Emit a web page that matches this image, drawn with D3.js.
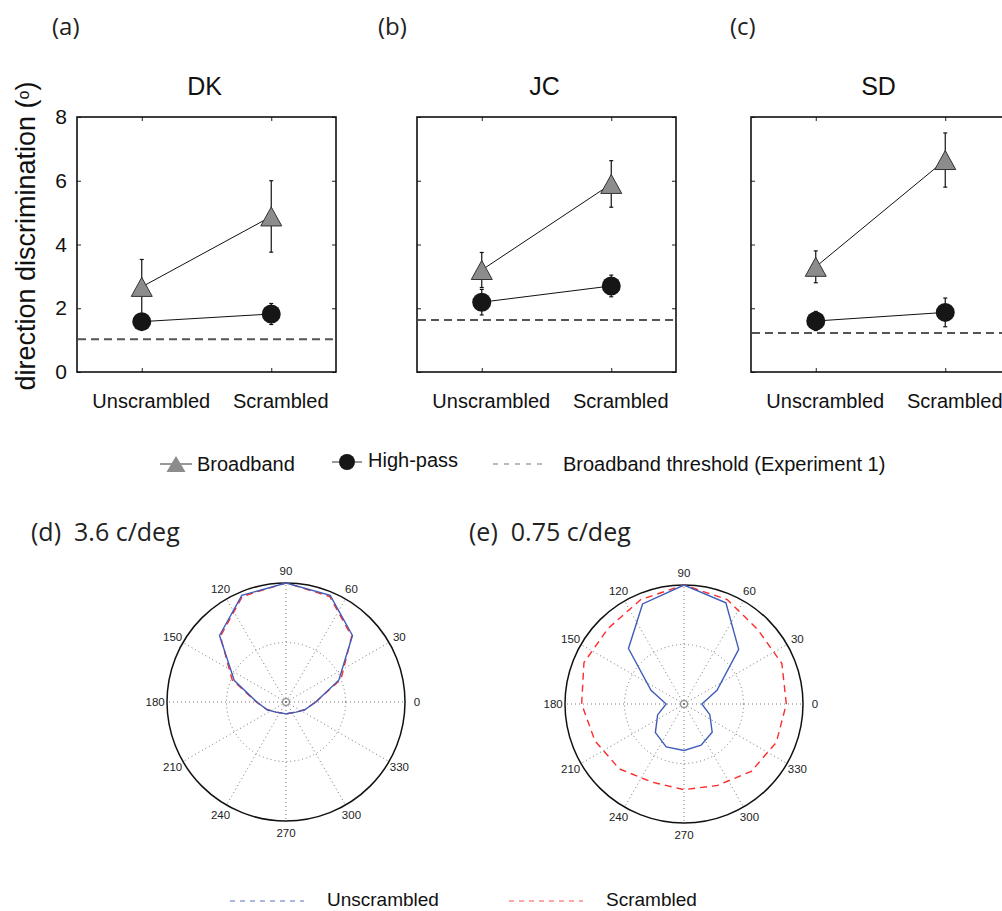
<!DOCTYPE html>
<html>
<head>
<meta charset="utf-8">
<title>Direction discrimination - broadband vs high-pass</title>
<script src="https://cdn.jsdelivr.net/npm/d3@7"></script>
<style>
  body { margin: 0; background: #fff; }
  text { font-family: "Liberation Sans", Arial, Helvetica, sans-serif; fill: #111; }
  .letter { font-family: "Open Sans", "Noto Sans", sans-serif; font-size: 24px; fill: #222; white-space: pre; }
  .ptick { font-size: 11.5px; fill: #222; }
</style>
</head>
<body>
<div id="chart"></div>
<script>
// ---- data ----
var subjects = ["DK", "JC", "SD"];
var panelLetters = ["(a)", "(b)", "(c)"];
var categories = ["Unscrambled", "Scrambled"];
var yTicks = [0, 2, 4, 6, 8];

var broadbandMean = [[2.67, 4.88], [3.2, 5.9], [3.3, 6.65]];
var broadbandErr  = [[0.86, 1.12], [0.55, 0.73], [0.5, 0.85]];
var highpassMean  = [[1.58, 1.82], [2.19, 2.7], [1.6, 1.87]];
var highpassErr   = [[0.15, 0.33], [0.4, 0.34], [0.3, 0.45]];
var thresholds    = [1.03, 1.63, 1.22];

var polarAngles = [0, 22.5, 45, 67.5, 90, 112.5, 135, 157.5, 180, 202.5, 225, 247.5, 270, 292.5, 315, 337.5];
var polarTicks  = [0, 30, 60, 90, 120, 150, 180, 210, 240, 270, 300, 330];
var dUnscrambled = [0.25, 0.48, 0.79, 0.97, 1.0, 0.97, 0.79, 0.47, 0.245, 0.17, 0.12, 0.1, 0.1, 0.1, 0.12, 0.17];
var dScrambled   = [0.25, 0.5, 0.78, 0.96, 1.0, 0.96, 0.78, 0.49, 0.25, 0.17, 0.12, 0.1, 0.1, 0.1, 0.12, 0.17];
var eUnscrambled = [0.15, 0.30, 0.65, 0.92, 1.0, 0.91, 0.66, 0.30, 0.15, 0.24, 0.34, 0.39, 0.39, 0.375, 0.335, 0.235];
var eScrambled   = [0.86, 0.89, 0.88, 0.95, 1.0, 0.95, 0.9, 0.91, 0.86, 0.81, 0.77, 0.71, 0.72, 0.74, 0.8, 0.84];

var blue = "#3f5cb8", red = "#ff2a2a";

var svg = d3.select("#chart").append("svg")
    .attr("width", 1002).attr("height", 911)
    .style("background", "#fff");

// ---- top row: three subjects ----
var box = {top: 117, w: 259, h: 255};
var lefts = [77, 417, 751];
var letterX = [52, 378, 730];

var y = d3.scaleLinear().domain([0, 8]).range([box.h, 0]);
var x = d3.scalePoint().domain(categories).range([0, box.w]).padding(0.5);

function triangle(w, h) {
  return "M0," + (-h / 2) + "L" + (w / 2) + "," + (h / 2) + "L" + (-w / 2) + "," + (h / 2) + "Z";
}

subjects.forEach(function(name, i) {
  svg.append("text").attr("class", "letter")
    .attr("x", letterX[i]).attr("y", 35)
    .text(panelLetters[i]);

  var g = svg.append("g").attr("transform", "translate(" + lefts[i] + "," + box.top + ")");

  g.append("text").attr("x", box.w / 2 - 2).attr("y", -22)
    .attr("text-anchor", "middle").style("font-size", "25px")
    .text(name);

  // axes, ticks pointing inward
  var yl = g.append("g").call(d3.axisLeft(y).tickValues(yTicks).tickSizeInner(-4).tickSizeOuter(0).tickPadding(10)
      .tickFormat(i == 0 ? d3.format("d") : ""));
  var yr = g.append("g").attr("transform", "translate(" + box.w + ",0)")
      .call(d3.axisRight(y).tickValues(yTicks).tickSizeInner(-4).tickSizeOuter(0).tickFormat(""));
  var xb = g.append("g").attr("transform", "translate(0," + box.h + ")")
      .call(d3.axisBottom(x).tickSizeInner(-4).tickSizeOuter(0).tickPadding(22));
  var xt = g.append("g").call(d3.axisTop(x).tickSizeInner(-4).tickSizeOuter(0).tickFormat(""));
  [yl, yr, xb, xt].forEach(function(a) {
    a.select(".domain").remove();
    a.selectAll("line").attr("stroke", "#222");
    a.selectAll("text").attr("font-family", null).style("font-size", "21px").attr("fill", "#111");
  });
  xb.selectAll("text").style("font-size", "20px").attr("dx", 9);

  g.append("rect").attr("width", box.w).attr("height", box.h)
    .attr("fill", "none").attr("stroke", "#111").attr("stroke-width", 1.6);

  // threshold from experiment 1
  g.append("line").attr("x1", 1).attr("x2", box.w)
    .attr("y1", y(thresholds[i])).attr("y2", y(thresholds[i]))
    .attr("stroke", "#555").attr("stroke-width", 2).attr("stroke-dasharray", "8,5");

  var series = [
    {mean: broadbandMean[i], err: broadbandErr[i], kind: "tri"},
    {mean: highpassMean[i], err: highpassErr[i], kind: "dot"}
  ];
  var line = d3.line().x(function(d, j) { return x(categories[j]); }).y(function(d) { return y(d); });

  series.forEach(function(s) {
    s.mean.forEach(function(m, j) {
      var cx = x(categories[j]);
      g.append("line").attr("x1", cx).attr("x2", cx)
        .attr("y1", y(m - s.err[j])).attr("y2", y(m + s.err[j]))
        .attr("stroke", "#111").attr("stroke-width", 1.2);
      [m - s.err[j], m + s.err[j]].forEach(function(v) {
        g.append("line").attr("x1", cx - 2).attr("x2", cx + 2)
          .attr("y1", y(v)).attr("y2", y(v)).attr("stroke", "#111").attr("stroke-width", 1.2);
      });
    });
    g.append("path").attr("d", line(s.mean)).attr("fill", "none")
      .attr("stroke", "#111").attr("stroke-width", 1);
  });

  series.forEach(function(s) {
    s.mean.forEach(function(m, j) {
      var cx = x(categories[j]);
      if (s.kind == "tri") {
        g.append("path").attr("d", triangle(21, 19))
          .attr("transform", "translate(" + cx + "," + y(m) + ")")
          .attr("fill", "#8c8c8c").attr("stroke", "#333").attr("stroke-width", 1);
      } else {
        g.append("circle").attr("cx", cx).attr("cy", y(m)).attr("r", 9.5)
          .attr("fill", "#161616");
      }
    });
  });
});

// y axis title
var yt = svg.append("text")
  .attr("transform", "translate(35,236) rotate(-90)")
  .attr("text-anchor", "middle").style("font-size", "27px");
yt.append("tspan").text("direction discrimination (");
yt.append("tspan").style("font-size", "16px").attr("dy", -6).text("o");
yt.append("tspan").attr("dy", 6).text(")");

// top legend
var lg = svg.append("g").attr("transform", "translate(0,464)");
lg.append("line").attr("x1", 160).attr("x2", 192).attr("stroke", "#333").attr("stroke-width", 1);
lg.append("path").attr("d", triangle(19, 16)).attr("transform", "translate(176,0)").attr("fill", "#8c8c8c");
lg.append("text").attr("x", 197).attr("y", 7).style("font-size", "20px").text("Broadband");
lg.append("line").attr("x1", 332).attr("x2", 362).attr("y1", -2).attr("y2", -2).attr("stroke", "#333").attr("stroke-width", 1);
lg.append("circle").attr("cx", 347).attr("cy", -2).attr("r", 8).attr("fill", "#161616");
lg.append("text").attr("x", 368).attr("y", 3).style("font-size", "20px").text("High-pass");
lg.append("line").attr("x1", 493).attr("x2", 545).attr("stroke", "#777").attr("stroke-width", 1.2).attr("stroke-dasharray", "5,6");
lg.append("text").attr("x", 563).attr("y", 7).style("font-size", "20px").text("Broadband threshold (Experiment 1)");

// ---- bottom row: polar plots ----
var R = 119;
var rScale = d3.scaleLinear().domain([0, 1]).range([0, R]);
var toRad = function(a) { return (90 - a) * Math.PI / 180; };
var radial = d3.lineRadial()
  .angle(function(d) { return toRad(d[0]); })
  .radius(function(d) { return rScale(d[1]); })
  .curve(d3.curveLinearClosed);

var polars = [
  {cx: 286, cy: 702, title: "(d)  3.6 c/deg", tx: 31, un: dUnscrambled, sc: dScrambled},
  {cx: 684, cy: 704, title: "(e)  0.75 c/deg", tx: 469, un: eUnscrambled, sc: eScrambled}
];

polars.forEach(function(p) {
  svg.append("text").attr("class", "letter").style("font-size", "25px")
    .attr("x", p.tx).attr("y", 541).text(p.title);

  var g = svg.append("g").attr("transform", "translate(" + p.cx + "," + p.cy + ")");

  g.selectAll(".spoke").data(polarTicks).enter().append("line")
    .attr("x1", 0).attr("y1", 0)
    .attr("x2", function(a) { return rScale(1) * Math.cos(a * Math.PI / 180); })
    .attr("y2", function(a) { return -rScale(1) * Math.sin(a * Math.PI / 180); })
    .attr("stroke", "#777").attr("stroke-width", 1).attr("stroke-dasharray", "1,3");
  g.append("circle").attr("r", rScale(0.5)).attr("fill", "none")
    .attr("stroke", "#777").attr("stroke-dasharray", "1,3");
  g.append("circle").attr("r", 3.5).attr("fill", "none").attr("stroke", "#777");
  g.append("circle").attr("r", rScale(1)).attr("fill", "none")
    .attr("stroke", "#111").attr("stroke-width", 1.5);

  g.selectAll(".ptick").data(polarTicks).enter().append("text")
    .attr("class", "ptick").attr("text-anchor", "middle").attr("dy", "0.35em")
    .attr("x", function(a) { return rScale(1.1) * Math.cos(a * Math.PI / 180); })
    .attr("y", function(a) { return -rScale(1.1) * Math.sin(a * Math.PI / 180); })
    .text(function(a) { return a; });

  g.append("path").attr("d", radial(polarAngles.map(function(a, k) { return [a, p.sc[k]]; })))
    .attr("fill", "none").attr("stroke", red).attr("stroke-width", 1.4).attr("stroke-dasharray", "7,5");
  g.append("path").attr("d", radial(polarAngles.map(function(a, k) { return [a, p.un[k]]; })))
    .attr("fill", "none").attr("stroke", blue).attr("stroke-width", 1.4);
});

// bottom legend
var bl = svg.append("g").attr("transform", "translate(0,901)");
bl.append("line").attr("x1", 230).attr("x2", 304).attr("stroke", "#5a6fc8").attr("stroke-width", 1.2).attr("stroke-dasharray", "5,5");
bl.append("text").attr("x", 327).attr("y", 5).style("font-size", "19px").text("Unscrambled");
bl.append("line").attr("x1", 509).attr("x2", 583).attr("stroke", "#ff5050").attr("stroke-width", 1.2).attr("stroke-dasharray", "5,5");
bl.append("text").attr("x", 606).attr("y", 5).style("font-size", "19px").text("Scrambled");
</script>
</body>
</html>
